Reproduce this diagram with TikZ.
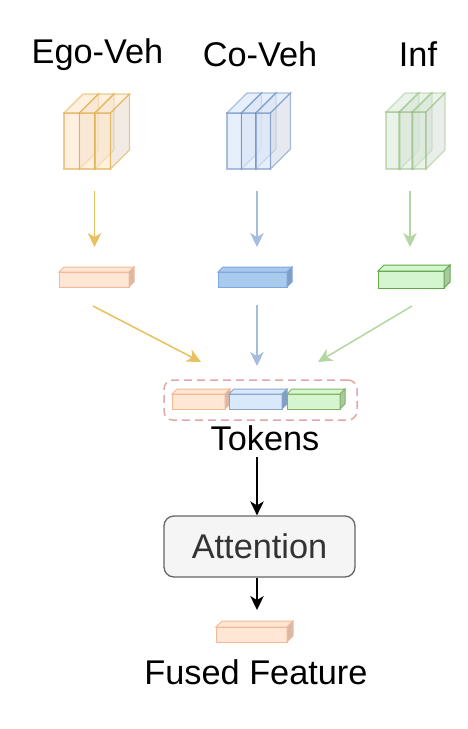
\documentclass[tikz,border=0pt]{standalone}
\usepackage{fontspec}
\setmainfont{Liberation Sans}
\usetikzlibrary{arrows.meta}
\definecolor{egoF}{HTML}{FFE6CC}
\definecolor{egoD}{HTML}{E0AE4A}
\definecolor{coF}{HTML}{DAE8FC}
\definecolor{coD}{HTML}{6C8EBF}
\definecolor{infF}{HTML}{D5E8D4}
\definecolor{infD}{HTML}{82B366}
\definecolor{obF}{HTML}{FFE6D5}
\definecolor{obD}{HTML}{F5B895}
\definecolor{obS}{HTML}{D9B8A6}
\definecolor{bbF}{HTML}{A9CAEC}
\definecolor{bbD}{HTML}{7EA6E0}
\definecolor{bbS}{HTML}{7F9FC6}
\definecolor{gbF}{HTML}{D5F5CF}
\definecolor{gbD}{HTML}{62A84A}
\definecolor{gbS}{HTML}{A9C9A0}
\definecolor{egoA}{HTML}{E8C060}
\definecolor{coA}{HTML}{A4BDDE}
\definecolor{infA}{HTML}{B5D6A3}
\definecolor{grpD}{HTML}{E0A9A9}
\newcommand\mybox[6][]{%
  \begin{scope}[#1]
    \filldraw ({#2},{#3}) rectangle ({#2+#4},{#3+#5});
    \filldraw ({#2},{#3}) -- ({#2+#6},{#3-#6}) -- ({#2+#4+#6},{#3-#6}) -- ({#2+#4},{#3}) -- cycle;
    \filldraw[sidefill] ({#2+#4},{#3}) -- ({#2+#4+#6},{#3-#6}) -- ({#2+#4+#6},{#3+#5-#6}) -- ({#2+#4},{#3+#5}) -- cycle;
  \end{scope}}
\tikzset{
  lbl/.style={font=\fontsize{34.3}{40}\selectfont, inner sep=0pt, anchor=base},
  tip/.style={-{Stealth[length=14pt,width=13.5pt,inset=4pt]}},
  egoarrow/.style={tip, draw=egoA, line width=1.5pt},
  coarrow/.style={tip, draw=coA, line width=1.5pt},
  infarrow/.style={tip, draw=infA, line width=1.5pt},
  blackarrow/.style={tip, draw=black, line width=1.6pt},
  sidefill/.style={},
}
\begin{document}
\begin{tikzpicture}[x=1pt,y=-1pt]
\useasboundingbox[fill=white] (0,0) rectangle (468,729);
% titles
\node[lbl] (egot) at (97.5,63) {Ego-Veh};
\node[lbl] (cot) at (260,66) {Co-Veh};
\node[lbl] (inft) at (418,66) {Inf};
% feature cubes
\foreach \x in {64,79.5,95}{
  \mybox[fill=egoF, draw=egoD, fill opacity=0.6, draw opacity=0.6, line width=1.2pt, sidefill/.style={fill=egoF!70!gray!60}]{\x}{113}{15.5}{56}{19}}
\foreach \x in {227,241.5,256}{
  \mybox[fill=coF, draw=coD, fill opacity=0.65, draw opacity=0.55, line width=1.2pt, sidefill/.style={fill=coF!70!gray!60}]{\x}{113}{14.5}{56}{20}}
\foreach \x in {386,399,412}{
  \mybox[fill=infF, draw=infD, fill opacity=0.5, draw opacity=0.4, line width=1.2pt, sidefill/.style={fill=infF!70!gray!60}]{\x}{112}{14}{57}{19}}
% vertical arrows
\coordinate (e1) at (94.5,191); \coordinate (e2) at (94.5,247);
\coordinate (c1) at (257,191); \coordinate (c2) at (257,247);
\coordinate (i1) at (410,191); \coordinate (i2) at (410,247);
\draw[egoarrow] (e1) -- (e2);
\draw[coarrow] (c1) -- (c2);
\draw[infarrow] (i1) -- (i2);
% feature bars
\mybox[fill=obF, draw=obD, line width=1pt, sidefill/.style={fill=obS}]{59}{272}{70}{15}{5}
\mybox[fill=bbF, draw=bbD, line width=1pt, sidefill/.style={fill=bbS}]{218}{272}{69}{15}{5}
\mybox[fill=gbF, draw=gbD, line width=1pt, sidefill/.style={fill=gbS}]{378}{271}{66}{17}{6}
% converging arrows
\coordinate (e3) at (93,306); \coordinate (e4) at (201,362);
\coordinate (c3) at (257,305); \coordinate (c4) at (257,366);
\coordinate (i3) at (412,306); \coordinate (i4) at (318,362);
\draw[egoarrow] (e3) -- (e4);
\draw[coarrow] (c3) -- (c4);
\draw[infarrow] (i3) -- (i4);
% tokens group
\node[draw=grpD, dashed, dash pattern=on 8pt off 5pt, line width=1.5pt, rounded corners=9pt,
      minimum width=193pt, minimum height=40pt, inner sep=0pt] (grp) at (260.5,400) {};
\mybox[fill=obF, draw=obD, line width=1pt, sidefill/.style={fill=obS}]{172}{394}{53}{15}{5}
\mybox[fill=coF, draw=coD!80, line width=1pt, sidefill/.style={fill=bbS}]{229}{394}{53}{15}{5}
\mybox[fill=gbF, draw=infD, line width=1pt, sidefill/.style={fill=gbS}]{287}{394}{53}{15}{5}
\node[lbl] (tok) at (265,450) {Tokens};
% attention
\node[draw=black!60, fill=black!4, rounded corners=10pt, line width=1.3pt,
      minimum width=191pt, minimum height=61pt, inner sep=0pt,
      font=\fontsize{34.3}{40}\selectfont, text=black!80] (att) at (259.5,546.5) {Attention};
\coordinate (t1) at (257,457);
\draw[blackarrow] (t1) -- (att.north -| t1);
\coordinate (f1) at (257,610);
\draw[blackarrow] (att.south -| f1) -- (f1);
% fused bar
\mybox[fill=obF, draw=obD, line width=1pt, sidefill/.style={fill=obS}]{216}{627}{71}{15}{6}
\node[lbl] (fused) at (256,684) {Fused Feature};
\end{tikzpicture}
\end{document}
